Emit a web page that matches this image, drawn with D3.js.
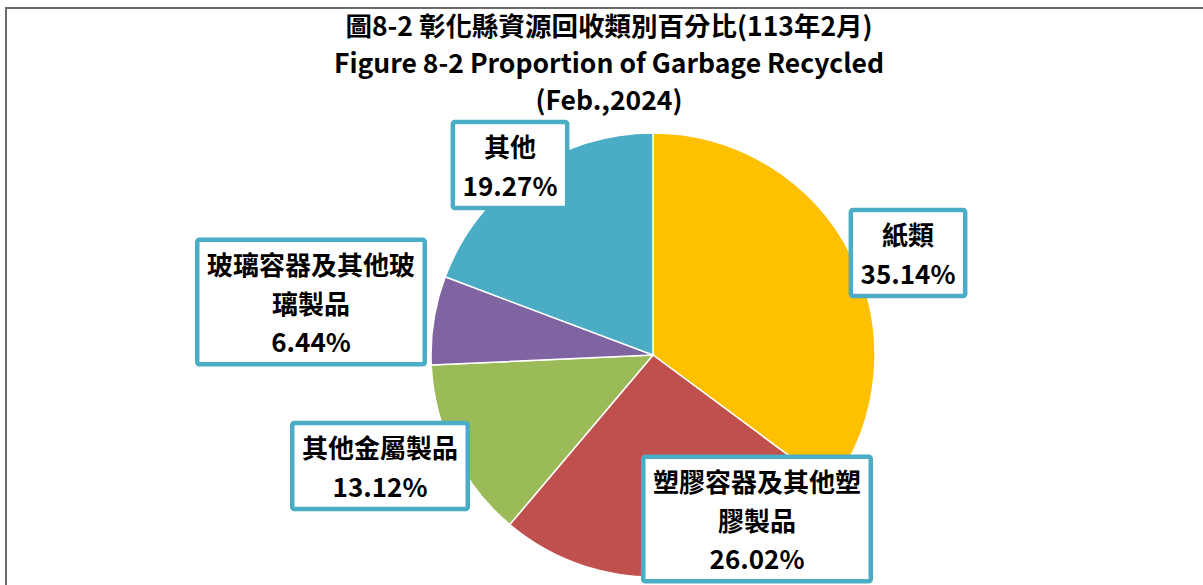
<!DOCTYPE html>
<html>
<head>
<meta charset="utf-8">
<script src="https://cdn.jsdelivr.net/npm/d3@7"></script>
<style>
    body { margin: 0; background: #fff; }
    svg text { font-family: "Noto Sans CJK TC", "Noto Sans", sans-serif; font-weight: bold; fill: #000; }
</style>
</head>
<body>
<svg id="chart" width="1203" height="585"></svg>
<script>
// chart data
const categories = ['紙類', '塑膠容器及其他塑膠製品', '其他金屬製品', '玻璃容器及其他玻璃製品', '其他'];
const labelLines = [
    ['紙類'],
    ['塑膠容器及其他塑', '膠製品'],
    ['其他金屬製品'],
    ['玻璃容器及其他玻', '璃製品'],
    ['其他']
];
const values = [35.14, 26.02, 13.12, 6.44, 19.27];
const sliceColors = ['#FFC000', '#C0504D', '#9BBB59', '#8064A2', '#4BACC6'];
const titleLines = ['圖8-2 彰化縣資源回收類別百分比(113年2月)', 'Figure 8-2 Proportion of Garbage Recycled', '(Feb.,2024)'];

// label box centres, relative to pie centre (manually placed in original)
const labelOffsets = [[255, -102], [104, 164], [-273, 111], [-342, -53], [-143, -190]];

const svg = d3.select('#chart');
const width = +svg.attr('width');

// outer frame
svg.append('rect')
    .attr('x', 6)
    .attr('y', 8)
    .attr('width', width + 20)
    .attr('height', 700)
    .attr('fill', 'none')
    .attr('stroke', '#6b6b6b')
    .attr('stroke-width', 2);

// title
svg.selectAll('.title')
    .data(titleLines)
    .enter()
    .append('text')
    .attr('class', 'title')
    .attr('x', 609)
    .attr('y', (d, i) => 24 + i * 37)
    .attr('text-anchor', 'middle')
    .attr('dominant-baseline', 'central')
    .style('font-size', '26.5px')
    .text((d) => d);

const cx = 653;
const cy = 355;
const radius = 222;

const pie = d3.pie().sort(null).value((d) => d.value);
const arc = d3.arc().innerRadius(0).outerRadius(radius);

const rows = values.map((v, i) => ({name: categories[i], value: v, lines: labelLines[i], color: sliceColors[i], offset: labelOffsets[i]}));

const g = svg.append('g').attr('transform', `translate(${cx}, ${cy})`);

g.selectAll('path')
    .data(pie(rows))
    .enter()
    .append('path')
    .attr('d', arc)
    .attr('fill', (d) => d.data.color)
    .attr('stroke', '#fff')
    .attr('stroke-width', 1.5);

// data labels
const lineGap = 38.5;
const labels = g.selectAll('.lbl')
    .data(pie(rows))
    .enter()
    .append('g')
    .attr('class', 'lbl')
    .attr('transform', (d) => `translate(${d.data.offset[0]}, ${d.data.offset[1]})`);

labels.each(function (d) {
    const lab = d3.select(this);
    const lines = d.data.lines.concat([d3.format('.2f')(d.data.value) + '%']);
    const h = 52 + (lines.length - 1) * lineGap;
    const box = lab.append('rect')
        .attr('fill', '#fff')
        .attr('stroke', '#4BACC6')
        .attr('stroke-width', 4.5)
        .attr('rx', 2);
    const texts = lab.selectAll('text')
        .data(lines)
        .enter()
        .append('text')
        .attr('x', 0)
        .attr('y', (t, i) => -h / 2 + 26 + i * lineGap)
        .attr('text-anchor', 'middle')
        .attr('dominant-baseline', 'central')
        .style('font-size', '26px')
        .text((t) => t);
    let maxW = 0;
    texts.each(function () { maxW = Math.max(maxW, this.getComputedTextLength()); });
    const w = maxW + 24;
    box.attr('x', -w / 2 + 2.25)
        .attr('y', -h / 2 + 2.25)
        .attr('width', w - 4.5)
        .attr('height', h - 4.5);
});
</script>
</body>
</html>
